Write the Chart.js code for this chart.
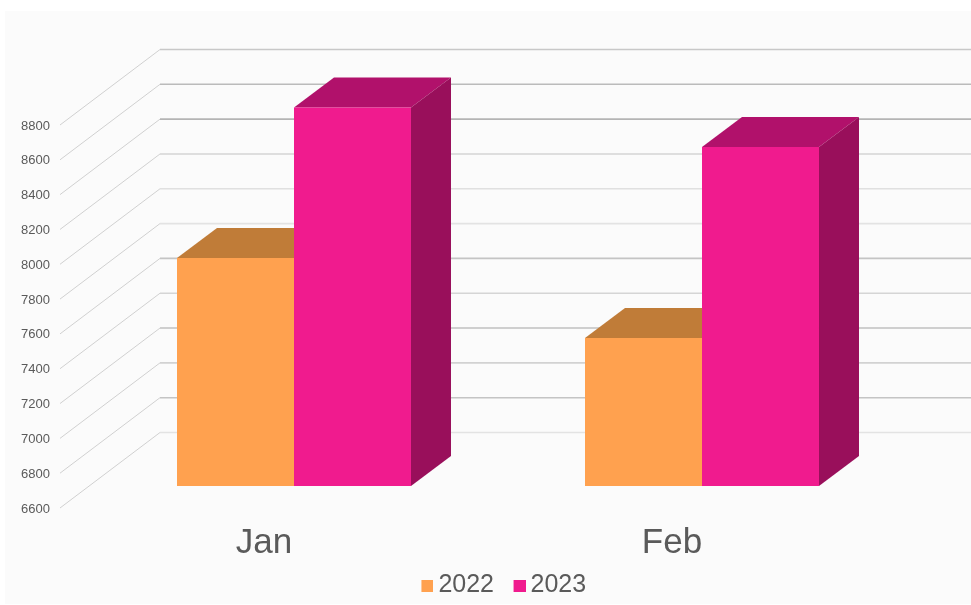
<!DOCTYPE html>
<html>
<head>
<meta charset="utf-8">
<style>
html,body{margin:0;padding:0;background:#fff;overflow:hidden}
#wrap{position:relative;width:971px;height:605px}
#panel{position:absolute;left:5px;top:11px;right:0;bottom:1px;background:#fbfbfb}
canvas{position:absolute;left:0;top:0}
</style>
<script src="https://cdn.jsdelivr.net/npm/chart.js@4/dist/chart.umd.min.js"></script>
</head>
<body>
<div id="wrap"><div id="panel"></div><canvas id="c" width="971" height="605"></canvas></div>
<script>
const categories = ["Jan", "Feb"];
const series2022 = [7910, 7450];
const series2023 = [8774, 8547];
const seriesNames = ["2022", "2023"];
const axisMin = 6600, axisMax = 8800, axisStep = 200;

const frontColors = ["#FFA14F", "#F01B8E"];
const topColors = ["#C07C38", "#B1116B"];
const sideColors = ["#99632D", "#990F5B"];
const gridShades = ["#e3e3e3","#c4c4c4","#d2d2d2","#c0c0c0","#d5d5d5","#c4c4c4","#e3e3e3","#e0e0e0","#d5d5d5","#b4b4b4","#bbbbbb","#c8c8c8"];
const diagonalShade = "#d0d0d0";
const textColor = "#5a5a5a";
const fontFamily = "'Liberation Sans', Arial, sans-serif";

// projection of the 3D look, in pixels
const depth = { barX: 40, barY: 30, wallX: 160, wallRight: 971, wallDy: 53.5, frontX: 60, frontDy: 22 };

function swatch(color) {
  const s = document.createElement("canvas");
  s.width = 15; s.height = 12;
  const g = s.getContext("2d");
  g.fillStyle = color; g.fillRect(3, 0, 12, 12);
  return s;
}

const pseudo3d = {
  id: "pseudo3d",
  afterLayout(chart) {
    chart.legend.left += 53;
    chart.legend.right += 53;
    chart.legend.top += 9;
    chart.legend.bottom += 9;
    chart.scales.x.bottom += 50;
  },
  beforeDatasetsDraw(chart) {
    const ctx = chart.ctx, y = chart.scales.y;
    ctx.save();
    y.ticks.forEach((t, i) => {
      const p = y.getPixelForValue(t.value);
      ctx.lineWidth = 1;
      ctx.strokeStyle = diagonalShade;
      ctx.beginPath();
      ctx.moveTo(depth.frontX, p + depth.frontDy);
      ctx.lineTo(depth.wallX, p - depth.wallDy);
      ctx.stroke();
      ctx.lineWidth = 1.6;
      ctx.strokeStyle = gridShades[i];
      ctx.beginPath();
      ctx.moveTo(depth.wallX, p - depth.wallDy);
      ctx.lineTo(depth.wallRight, p - depth.wallDy);
      ctx.stroke();
    });
    chart.data.datasets.forEach((ds, di) => {
      chart.getDatasetMeta(di).data.forEach(bar => {
        const l = bar.x - bar.width / 2, r = bar.x + bar.width / 2;
        const dx = depth.barX, dy = depth.barY;
        ctx.fillStyle = topColors[di];
        ctx.beginPath();
        ctx.moveTo(l, bar.y);
        ctx.lineTo(l + dx, bar.y - dy);
        ctx.lineTo(r + dx, bar.y - dy);
        ctx.lineTo(r, bar.y);
        ctx.closePath();
        ctx.fill();
        ctx.fillStyle = sideColors[di];
        ctx.beginPath();
        ctx.moveTo(r, bar.y);
        ctx.lineTo(r + dx, bar.y - dy);
        ctx.lineTo(r + dx, bar.base - dy);
        ctx.lineTo(r, bar.base);
        ctx.closePath();
        ctx.fill();
      });
    });
    ctx.restore();
  }
};

new Chart(document.getElementById("c"), {
  type: "bar",
  data: {
    labels: categories,
    datasets: [
      { label: seriesNames[0], data: series2022, backgroundColor: frontColors[0], base: axisMin },
      { label: seriesNames[1], data: series2023, backgroundColor: frontColors[1], base: axisMin }
    ]
  },
  plugins: [pseudo3d],
  options: {
    responsive: false,
    animation: false,
    events: [],
    clip: false,
    barPercentage: 1,
    categoryPercentage: 0.5735,
    layout: { padding: { top: 103, right: 65, left: 0, bottom: 6 } },
    scales: {
      x: {
        grid: { display: false, drawTicks: false },
        border: { display: false },
        ticks: {
          color: textColor,
          font: { family: fontFamily, size: 35 },
          labelOffset: -30,
          padding: 36,
          maxRotation: 0
        },
        afterFit(s) { s.height = 54; }
      },
      y: {
        min: axisMin,
        max: axisMax,
        grid: { display: false, drawTicks: false },
        border: { display: false },
        ticks: {
          stepSize: axisStep,
          color: textColor,
          font: { family: fontFamily, size: 13 },
          labelOffset: 23,
          padding: 40,
          callback: v => String(v)
        },
        afterFit(s) { s.width = 90; }
      }
    },
    plugins: {
      tooltip: { enabled: false },
      legend: {
        position: "bottom",
        labels: {
          usePointStyle: true,
          pointStyleWidth: 0.01,
          padding: 24,
          color: textColor,
          font: { family: fontFamily, size: 25 },
          generateLabels(chart) {
            return Chart.defaults.plugins.legend.labels.generateLabels(chart).map((it, i) => {
              it.pointStyle = swatch(frontColors[i]);
              return it;
            });
          }
        }
      }
    }
  }
});
</script>
</body>
</html>
